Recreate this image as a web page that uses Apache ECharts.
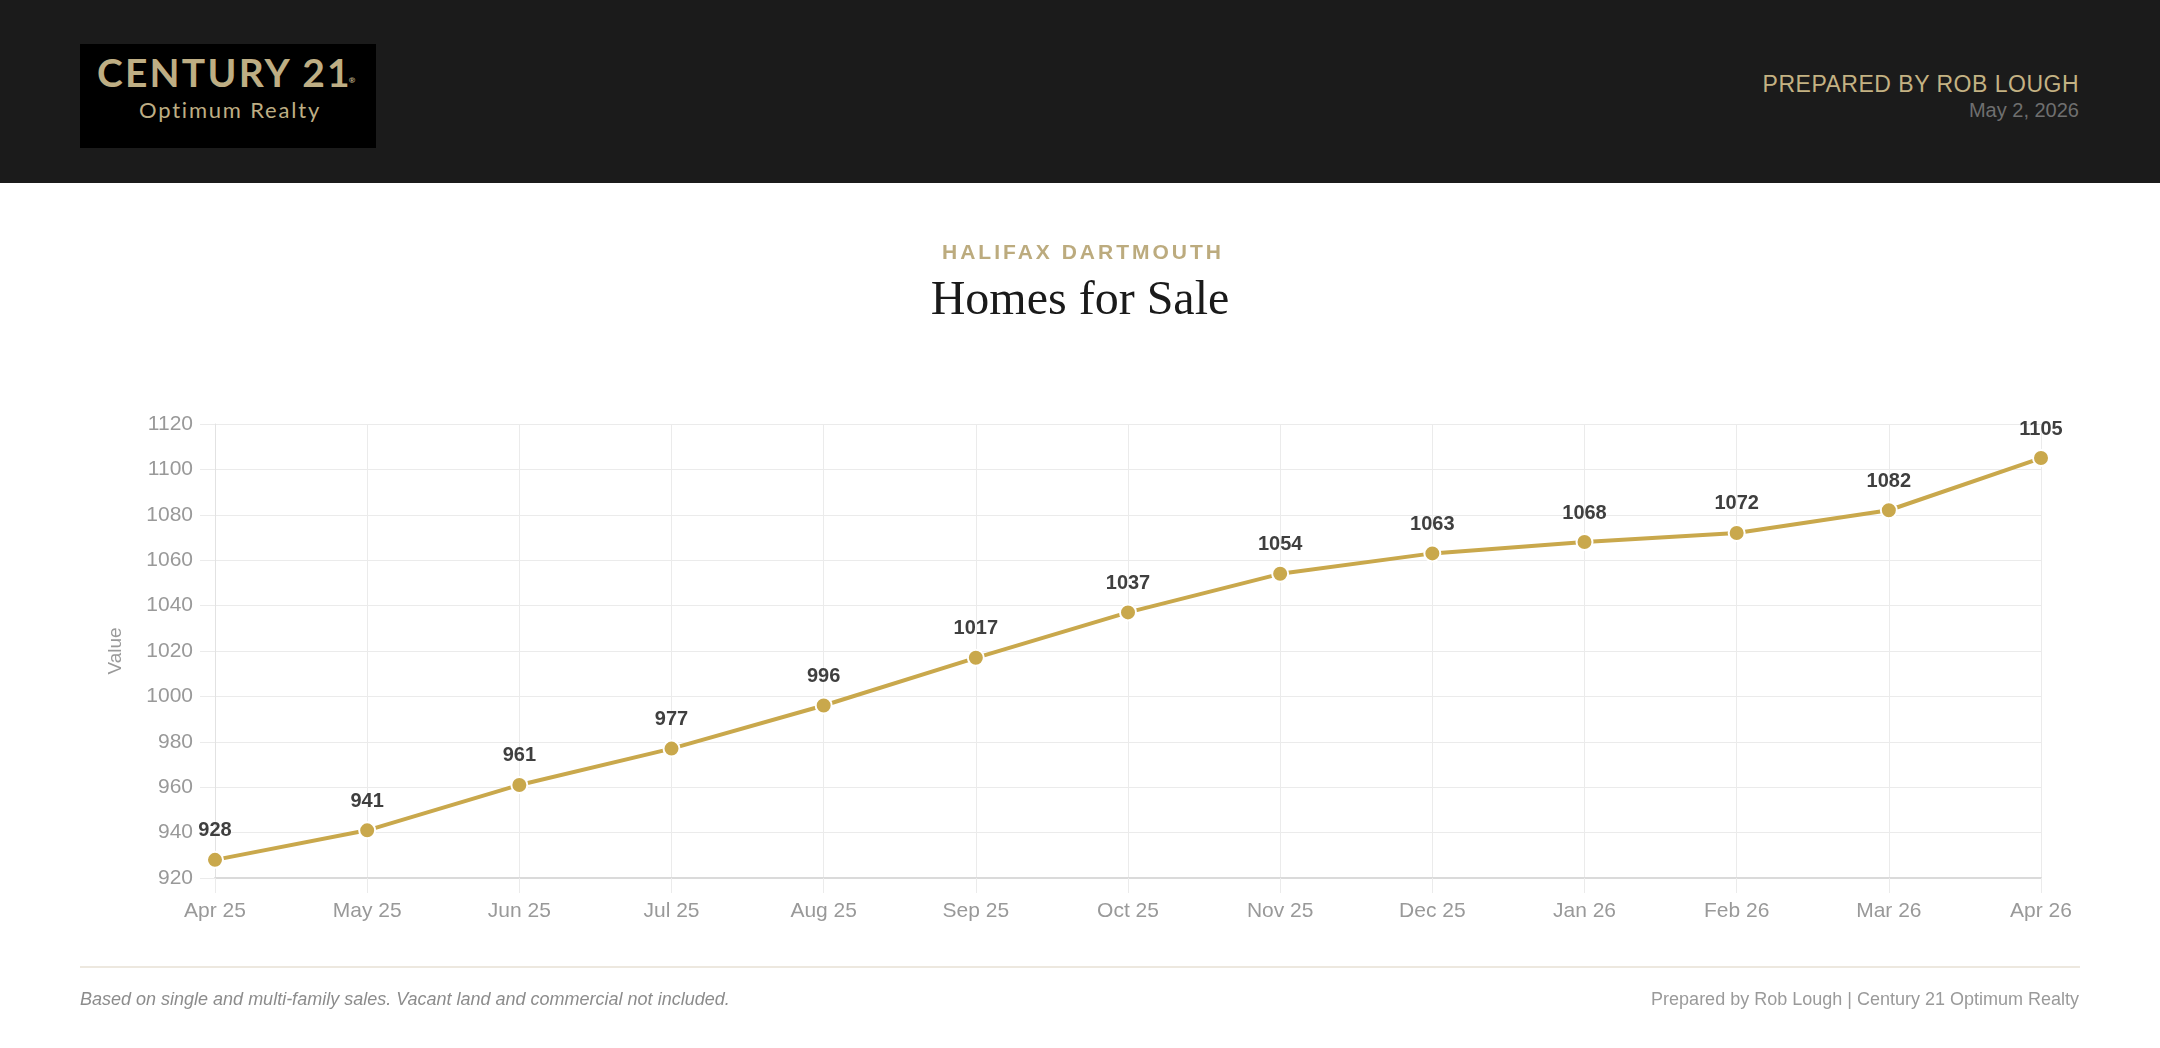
<!DOCTYPE html>
<html>
<head>
<meta charset="utf-8">
<script src="https://cdn.jsdelivr.net/npm/echarts@6/dist/echarts.min.js"></script>
<style>
html,body{margin:0;padding:0;width:2160px;height:1048px;background:#ffffff;overflow:hidden;font-family:"Liberation Sans",Arial,sans-serif;}
#chart{position:absolute;left:0;top:0;width:2160px;height:1048px;z-index:0;}
.abs{position:absolute;white-space:nowrap;line-height:1;z-index:1;}
#header{position:absolute;left:0;top:0;width:2160px;height:183px;background:#1b1b1b;z-index:1;}
#logo{position:absolute;left:80px;top:44px;width:296px;height:104px;background:#000;}
#c21{position:absolute;left:17px;top:9px;font-family:"Lato",sans-serif;font-weight:700;font-size:39px;color:#beae84;letter-spacing:2.2px;line-height:1;white-space:nowrap;}
#c21 sup{font-size:8px;letter-spacing:0;vertical-align:0;position:relative;top:-4px;margin-left:-3px;}
#opt{position:absolute;left:0;width:296px;text-align:center;top:55px;font-family:"Lato",sans-serif;font-weight:400;font-size:22px;color:#beae84;line-height:1;white-space:nowrap;letter-spacing:1.8px;padding-left:2px;}
#prep{right:81px;top:72.5px;font-size:23px;color:#c4b283;letter-spacing:0.5px;}
#date{right:81px;top:100px;font-size:20px;color:#6f6f6f;}
#region{left:0;width:2160px;text-align:center;top:241px;font-size:21px;font-weight:700;color:#bcab7e;letter-spacing:3px;padding-left:3px;}
#title{left:0;width:2160px;text-align:center;top:274px;font-family:"Liberation Serif",serif;font-size:48px;color:#1a1a1a;}
#rule{position:absolute;left:80px;top:966px;width:2000px;height:2px;background:#ede8df;z-index:1;}
#note{left:80px;top:990px;font-size:18px;font-style:italic;color:#8c8c8c;}
#credit{right:81px;top:990px;font-size:18px;color:#9a9a9a;}
</style>
</head>
<body>
<div id="chart"></div>
<div id="header">
  <div id="logo">
    <div id="c21">CENTURY 21<sup>®</sup></div>
    <div id="opt">Optimum Realty</div>
  </div>
  <div id="prep" class="abs">PREPARED BY ROB LOUGH</div>
  <div id="date" class="abs">May 2, 2026</div>
</div>
<div id="region" class="abs">HALIFAX DARTMOUTH</div>
<div id="title" class="abs">Homes for Sale</div>
<div id="rule"></div>
<div id="note" class="abs">Based on single and multi-family sales. Vacant land and commercial not included.</div>
<div id="credit" class="abs">Prepared by Rob Lough | Century 21 Optimum Realty</div>
<script>
const months = ["Apr 25","May 25","Jun 25","Jul 25","Aug 25","Sep 25","Oct 25","Nov 25","Dec 25","Jan 26","Feb 26","Mar 26","Apr 26"];
const homesForSale = [928,941,961,977,996,1017,1037,1054,1063,1068,1072,1082,1105];
const yMin = 920, yMax = 1120, yStep = 20;
const yAxisName = "Value";

const chart = echarts.init(document.getElementById('chart'), null, {renderer:'canvas'});
const gridColor = '#ebebeb';
const font = '"Liberation Sans", Arial, sans-serif';
chart.setOption({
  backgroundColor: 'transparent',
  animation: false,
  grid: {left: 215, right: 119, top: 424, bottom: 170, containLabel: false, outerBoundsMode: 'none'},
  xAxis: {
    type: 'category',
    data: months,
    boundaryGap: false,
    axisLine: {show: true, lineStyle: {color: '#dadada', width: 2}},
    axisTick: {show: true, length: 15, lineStyle: {color: gridColor}},
    axisLabel: {color: '#999999', fontSize: 21, fontFamily: font, margin: 23},
    splitLine: {show: true, lineStyle: {color: gridColor, width: 1}}
  },
  yAxis: {
    type: 'value',
    min: yMin, max: yMax, interval: yStep,
    name: yAxisName,
    nameLocation: 'middle',
    nameRotate: 90,
    nameGap: 90,
    nameTextStyle: {color: '#9a9a9a', fontSize: 19, fontFamily: font},
    axisLine: {show: true, lineStyle: {color: '#e2e2e2', width: 1}},
    axisTick: {show: true, length: 15, lineStyle: {color: gridColor}},
    axisLabel: {color: '#999999', fontSize: 21, fontFamily: font, margin: 22, formatter: function (v) { return String(v); }},
    splitLine: {show: true, lineStyle: {color: gridColor, width: 1}}
  },
  series: [{
    type: 'line',
    data: homesForSale,
    smooth: false,
    symbol: 'circle',
    symbolSize: 16,
    lineStyle: {color: '#c9a84c', width: 4},
    itemStyle: {color: '#c9a84c', borderColor: '#ffffff', borderWidth: 2},
    label: {show: true, position: 'top', distance: 10, color: '#3f3f3f', fontSize: 20, fontWeight: 'bold', fontFamily: font},
    z: 3
  }]
});
</script>
</body>
</html>
